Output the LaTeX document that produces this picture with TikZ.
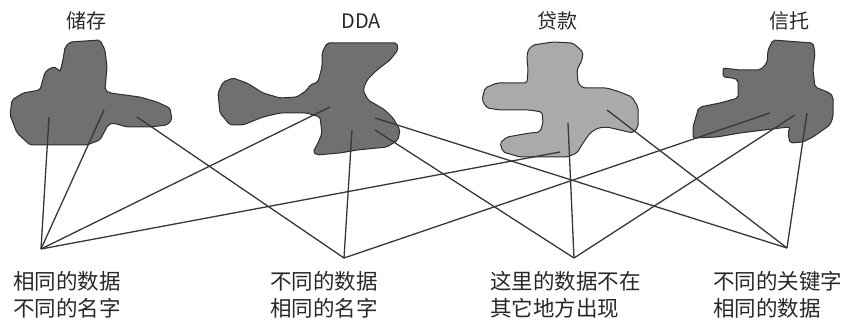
\documentclass[tikz,border=0pt]{standalone}
\usepackage{fontspec}
\setmainfont{Noto Sans CJK SC}
\definecolor{blobdark}{RGB}{112,112,112}
\definecolor{bloblight}{RGB}{170,170,170}
\definecolor{blobedge}{RGB}{45,45,45}
\definecolor{linkgray}{RGB}{55,55,55}
\definecolor{textink}{RGB}{40,40,40}
\tikzset{
  blob/.style={
    draw=blobedge,
    line width=1pt,
    fill=blobdark,
    rounded corners=2pt
  },
  lightblob/.style={blob, fill=bloblight},
  link/.style={draw=linkgray, line width=1.3pt},
  store/.style={
    font=\fontsize{20}{24}\selectfont,
    text=textink,
    inner sep=0pt
  },
  note/.style={
    align=left,
    anchor=north west,
    inner sep=0pt,
    font=\fontsize{21.5}{27}\selectfont,
    text=textink
  }
}

\begin{document}
\begin{tikzpicture}[x=1pt,y=-1pt]
    \useasboundingbox (0,0) rectangle (844,320);

    % store names
    \node[store] (cun) at (86,21) {储存};
    \node[store] (dda) at (361,21) {DDA};
    \node[store] (dai) at (557,21) {贷款};
    \node[store] (xin) at (789,21) {信托};

    % data regions
    \draw[blob] (70,42) -- (100,40) -- (105,50) -- (107,67) -- (105,90) -- (110,93) -- (140,97) -- (157,102) -- (170,108) -- (172,120) -- (167,125) -- (150,127) -- (127,127) -- (113,123) -- (108,125) -- (100,140) -- (87,145) -- (30,145) -- (17,133) -- (10,115) -- (12,100) -- (23,93) -- (40,90) -- (45,72) -- (52,67) -- (57,68) -- (60,72) -- (63,60) -- (65,47) -- cycle;
    \draw[blob] (327,43) -- (397,43) -- (398,50) -- (390,60) -- (377,70) -- (367,80) -- (363,90) -- (368,100) -- (380,107) -- (385,110) -- (393,118) -- (400,130) -- (398,140) -- (387,147) -- (357,150) -- (340,153) -- (317,155) -- (313,152) -- (318,143) -- (322,133) -- (320,117) -- (307,113) -- (280,113) -- (263,117) -- (243,125) -- (230,125) -- (220,113) -- (218,93) -- (223,82) -- (233,78) -- (247,83) -- (263,93) -- (280,98) -- (297,97) -- (307,90) -- (310,85) -- (318,82) -- (322,67) -- (322,53) -- cycle;
    \draw[lightblob] (533,45) -- (553,42) -- (573,43) -- (583,52) -- (582,60) -- (577,70) -- (578,83) -- (583,88) -- (607,88) -- (620,92) -- (632,97) -- (638,107) -- (638,127) -- (633,133) -- (620,130) -- (607,127) -- (598,128) -- (590,133) -- (583,143) -- (577,153) -- (567,157) -- (547,157) -- (520,157) -- (503,152) -- (500,143) -- (507,137) -- (530,133) -- (540,132) -- (543,123) -- (542,112) -- (530,110) -- (500,110) -- (487,108) -- (482,100) -- (485,88) -- (497,83) -- (527,83) -- (528,70) -- (527,58) -- (528,50) -- cycle;
    \draw[blob] (773,40) -- (813,43) -- (815,53) -- (813,70) -- (815,87) -- (830,93) -- (833,97) -- (833,117) -- (830,125) -- (813,137) -- (803,142) -- (790,143) -- (788,133) -- (790,127) -- (780,128) -- (740,133) -- (717,137) -- (693,138) -- (693,127) -- (698,110) -- (700,107) -- (720,103) -- (738,98) -- (738,80) -- (733,78) -- (723,77) -- (723,68) -- (740,70) -- (760,70) -- (767,63) -- (768,50) -- cycle;

    % where the links start inside the regions
    \coordinate (cun1) at (49,117);
    \coordinate (cun2) at (104,110);
    \coordinate (cun3) at (137,117);
    \coordinate (dda1) at (330,107);
    \coordinate (dda2) at (352,130);
    \coordinate (dda3) at (375,118);
    \coordinate (dda4) at (375,130);
    \coordinate (dai1) at (560,152);
    \coordinate (dai2) at (568,123);
    \coordinate (dai3) at (607,110);
    \coordinate (xin1) at (770,113);
    \coordinate (xin2) at (795,115);
    \coordinate (xin3) at (807,113);

    % meeting points above the notes
    \coordinate (hub1) at (41,249);
    \coordinate (hub2) at (344,258);
    \coordinate (hub3) at (574,258);
    \coordinate (hub4) at (787,248);

    \draw[link] (cun1) -- (hub1);
    \draw[link] (cun2) -- (hub1);
    \draw[link] (dda1) -- (hub1);
    \draw[link] (dai1) -- (hub1);
    \draw[link] (cun3) -- (hub2);
    \draw[link] (dda2) -- (hub2);
    \draw[link] (xin1) -- (hub2);
    \draw[link] (dda4) -- (hub3);
    \draw[link] (dai2) -- (hub3);
    \draw[link] (xin2) -- (hub3);
    \draw[link] (dda3) -- (hub4);
    \draw[link] (dai3) -- (hub4);
    \draw[link] (xin3) -- (hub4);

    % notes
    \node[note] (note1) at (13,271) {相同的数据\\不同的名字};
    \node[note] (note2) at (270,271) {不同的数据\\相同的名字};
    \node[note] (note3) at (490,271) {这里的数据不在\\其它地方出现};
    \node[note] (note4) at (713,271) {不同的关键字\\相同的数据};
\end{tikzpicture}
\end{document}
